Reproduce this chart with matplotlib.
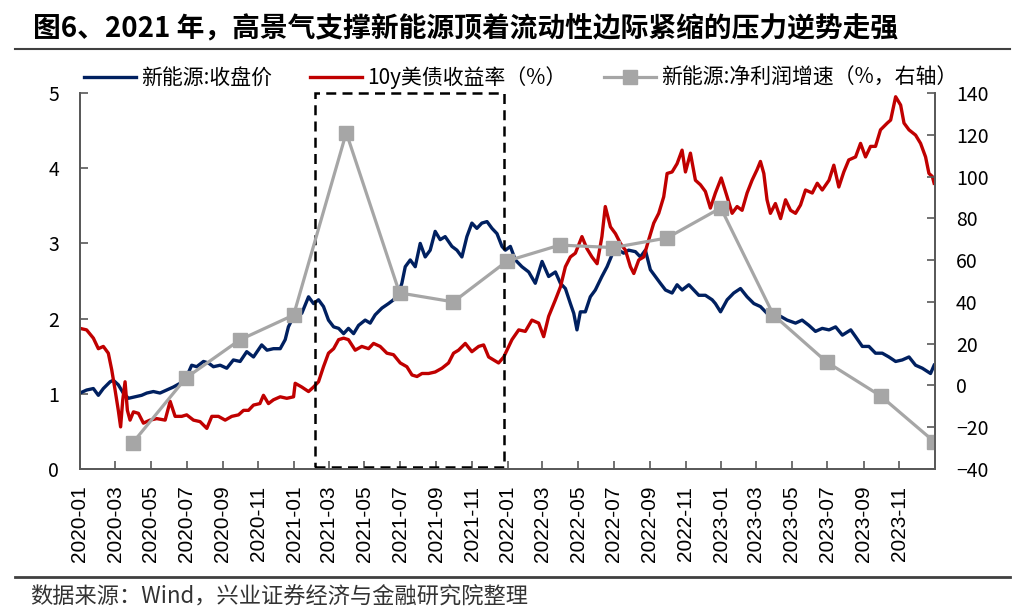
import numpy as np
import pandas as pd
import matplotlib.pyplot as plt
from matplotlib.lines import Line2D
from matplotlib.patches import Rectangle

plt.rcParams['font.family'] = ['Noto Sans CJK SC', 'DejaVu Sans']

# positions of the daily lines are read as months since 2020-01-01
# 新能源:收盘价 (left axis)
nev_month = [
    0, 0.37, 0.75, 1.03, 1.31, 1.69, 1.87, 2.15, 2.43, 2.72, 3.09, 3.46, 3.75, 4.12,
    4.49, 4.87, 5.24, 5.62, 5.99, 6.27, 6.55, 6.93, 7.21, 7.49, 7.87, 8.24, 8.61, 8.99,
    9.36, 9.74, 10.2, 10.5, 10.86, 11.24, 11.52, 11.7, 11.99, 12.08, 12.45, 12.83, 13.11,
    13.39, 13.67, 13.95, 14.24, 14.52, 14.8, 15.07, 15.36, 15.64, 16.01, 16.29, 16.57,
    16.95, 17.32, 17.6, 17.89, 18.07, 18.26, 18.54, 18.82, 19.1, 19.38, 19.66, 19.94,
    20.22, 20.5, 20.88, 21.16, 21.44, 21.72, 22.0, 22.28, 22.56, 22.85, 23.13, 23.41,
    23.69, 23.88, 24.16, 24.44, 24.81, 25.19, 25.56, 25.94, 26.31, 26.69, 26.97, 27.25,
    27.53, 27.72, 27.9, 28.09, 28.37, 28.65, 28.93, 29.3, 29.59, 29.87, 30.24, 30.52,
    30.8, 31.18, 31.46, 31.74, 32.02, 32.3, 32.58, 32.87, 33.24, 33.52, 33.8, 34.18,
    34.46, 34.74, 35.11, 35.49, 35.67, 35.96, 36.33, 36.7, 37.08, 37.45, 37.83, 38.2,
    38.57, 38.95, 39.33, 39.7, 40.17, 40.54, 40.92, 41.29, 41.67, 42.05, 42.42, 42.8,
    43.27, 43.54, 43.92, 44.29, 44.66, 45.04, 45.41, 45.79, 46.16, 46.54, 46.91, 47.29,
    47.75, 47.95,
]
nev_close = [
    1.01, 1.05, 1.07, 0.98, 1.07, 1.16, 1.18, 1.12, 1.01, 0.94, 0.96, 0.98, 1.01, 1.03,
    1.01, 1.05, 1.09, 1.14, 1.23, 1.38, 1.36, 1.43, 1.41, 1.36, 1.38, 1.34, 1.45, 1.43,
    1.56, 1.49, 1.65, 1.58, 1.60, 1.60, 1.72, 1.89, 2.03, 2.11, 2.07, 2.29, 2.20,
    2.25, 2.16, 1.98, 1.89, 1.87, 1.80, 1.87, 1.80, 1.91, 1.98, 1.94, 2.05,
    2.14, 2.20, 2.25, 2.34, 2.47, 2.69, 2.78, 2.69, 3.00, 2.82, 2.91, 3.16,
    3.05, 3.09, 2.96, 2.91, 2.82, 3.09, 3.27, 3.20, 3.27, 3.29, 3.20, 3.13,
    2.96, 2.91, 2.96, 2.78, 2.69, 2.62, 2.47, 2.76, 2.56, 2.62, 2.47, 2.40,
    2.20, 2.07, 1.85, 2.09, 2.09, 2.29, 2.38, 2.56, 2.69, 2.85, 2.91, 2.87,
    2.91, 2.89, 2.82, 2.91, 2.65, 2.56, 2.47, 2.38, 2.34, 2.45, 2.38, 2.45,
    2.38, 2.31, 2.31, 2.25, 2.20, 2.09, 2.25, 2.34, 2.40, 2.29, 2.20, 2.16,
    2.07, 2.03, 2.03, 1.98, 1.94, 1.98, 1.91, 1.83, 1.87, 1.85, 1.89, 1.78,
    1.85, 1.76, 1.63, 1.63, 1.54, 1.54, 1.49, 1.43, 1.45, 1.49, 1.38, 1.34,
    1.27, 1.38,
]

# 10y美债收益率 (left axis)
ust_month = [
    0, 0.37, 0.75, 1.03, 1.31, 1.59, 1.78, 1.97, 2.15, 2.28, 2.4, 2.53, 2.66, 2.81,
    3.0, 3.28, 3.56, 3.93, 4.31, 4.78, 5.06, 5.34, 5.71, 5.99, 6.37, 6.74, 7.12, 7.4,
    7.77, 8.15, 8.52, 8.9, 9.18, 9.46, 9.74, 10.1, 10.3, 10.58, 10.86, 11.24, 11.61,
    11.99, 12.08, 12.45, 12.83, 13.11, 13.39, 13.67, 13.95, 14.24, 14.52, 14.8, 15.07,
    15.45, 15.82, 16.2, 16.48, 16.85, 17.23, 17.6, 17.98, 18.35, 18.64, 18.92, 19.2,
    19.57, 19.94, 20.32, 20.69, 20.97, 21.25, 21.63, 22.0, 22.38, 22.66, 22.94, 23.22,
    23.5, 23.79, 24.07, 24.25, 24.63, 25.0, 25.37, 25.75, 26.03, 26.31, 26.69, 26.97,
    27.25, 27.53, 27.81, 28.18, 28.46, 28.74, 29.03, 29.3, 29.49, 29.78, 30.06, 30.34,
    30.62, 30.9, 31.09, 31.37, 31.65, 31.93, 32.21, 32.49, 32.77, 32.96, 33.24, 33.52,
    33.8, 33.99, 34.27, 34.55, 34.83, 35.11, 35.39, 35.67, 36.0, 36.33, 36.61, 36.89,
    37.17, 37.45, 37.73, 38.01, 38.2, 38.39, 38.57, 38.76, 39.04, 39.33, 39.61, 39.89,
    40.17, 40.45, 40.73, 41.11, 41.39, 41.67, 42.05, 42.32, 42.6, 42.88, 43.16, 43.54,
    43.82, 44.1, 44.38, 44.66, 44.94, 45.32, 45.51, 45.79, 46.07, 46.26, 46.54, 46.91,
    47.19, 47.47, 47.66, 47.85, 47.95,
]
ust_yield = [
    1.87, 1.85, 1.74, 1.60, 1.63, 1.54, 1.32, 1.05, 0.78, 0.56, 0.92, 1.16, 0.78, 0.65,
    0.76, 0.74, 0.61, 0.65, 0.67, 0.65, 0.90, 0.70, 0.70, 0.72, 0.65, 0.63, 0.54, 0.70,
    0.70, 0.65, 0.70, 0.72, 0.78, 0.78, 0.85, 0.87, 0.98, 0.87, 0.92, 0.96, 0.94,
    0.96, 1.14, 1.09, 1.03, 1.09, 1.16, 1.36, 1.54, 1.60, 1.72, 1.74, 1.72,
    1.58, 1.63, 1.60, 1.67, 1.63, 1.54, 1.52, 1.41, 1.36, 1.25, 1.23, 1.27,
    1.27, 1.29, 1.34, 1.41, 1.54, 1.58, 1.67, 1.56, 1.63, 1.65, 1.49, 1.45,
    1.41, 1.49, 1.63, 1.72, 1.85, 1.83, 1.98, 1.94, 1.76, 2.03, 2.25, 2.42,
    2.69, 2.82, 2.87, 3.09, 2.93, 2.82, 2.73, 3.09, 3.49, 3.22, 3.13, 3.00,
    2.91, 2.69, 2.60, 2.78, 2.82, 3.05, 3.27, 3.40, 3.62, 3.93, 3.95, 4.06,
    4.24, 3.95, 4.20, 3.84, 3.78, 3.69, 3.47, 3.67, 3.87, 3.62, 3.40, 3.49,
    3.44, 3.67, 3.84, 3.98, 4.09, 3.93, 3.58, 3.40, 3.53, 3.33, 3.58, 3.44,
    3.40, 3.51, 3.71, 3.67, 3.80, 3.71, 3.84, 4.04, 3.75, 3.95, 4.11, 4.15,
    4.33, 4.15, 4.29, 4.29, 4.51, 4.60, 4.64, 4.95, 4.84, 4.60, 4.51, 4.44,
    4.33, 4.15, 3.93, 3.89, 3.80,
]

# 新能源:净利润增速 (%, right axis), quarterly
profit_dates = [
    "2020-03-31", "2020-06-30", "2020-09-30", "2020-12-31",
    "2021-03-31", "2021-06-30", "2021-09-30", "2021-12-31",
    "2022-03-31", "2022-06-30", "2022-09-30", "2022-12-31",
    "2023-03-31", "2023-06-30", "2023-09-30", "2023-12-31",
]
profit_growth = [
    -27.5, 3.6, 21.8, 33.7,
    121.0, 44.3, 40.0, 59.6,
    67.2, 66.0, 70.6, 85.0,
    33.7, 11.2, -5.0, -27.0,
]

# highlighted period
box_start, box_end = "2021-02-05", "2021-12-25"

origin = pd.Timestamp("2020-01-01")
nev_dates = origin + pd.to_timedelta(np.array(nev_month) * 30.4375, unit='D')
ust_dates = origin + pd.to_timedelta(np.array(ust_month) * 30.4375, unit='D')
profit_dates = pd.to_datetime(profit_dates)

fig = plt.figure(figsize=(10.24, 6.15), dpi=100)
ax = fig.add_axes([80 / 1024, 1 - 469 / 615, 855 / 1024, 376 / 615])
ax2 = ax.twinx()

l1, = ax.plot(nev_dates, nev_close, color='#002060', lw=2.4, label='新能源:收盘价')
l2, = ax.plot(ust_dates, ust_yield, color='#C00000', lw=2.4, label='10y美债收益率（%）')
l3, = ax2.plot(profit_dates, profit_growth, color='#A6A6A6', lw=2.3, marker='s',
               markersize=10, label='新能源:净利润增速（%，右轴）')

x0 = pd.Timestamp(box_start)
x1 = pd.Timestamp(box_end)
rect = Rectangle((x0, 0.03), x1 - x0, 4.97, fill=False, ec='black', lw=1.8,
                 ls=(0, (4, 2.5)), clip_on=False, zorder=5)
ax.add_patch(rect)

ax.set_xlim(origin, pd.Timestamp("2024-01-01"))
ax.set_ylim(0, 5)
ax2.set_ylim(-40, 140)
ax.set_yticks(range(0, 6))
ax2.set_yticks(range(-40, 141, 20))

ticks = pd.date_range("2020-01-01", "2023-11-01", freq="2MS")
ax.set_xticks(ticks)
ax.set_xticklabels([t.strftime("%Y-%m") for t in ticks], rotation=90,
                   family='Liberation Sans', fontsize=15)

ax.tick_params(axis='x', direction='in', length=6, width=1.2, color='#595959', pad=12)
ax.tick_params(axis='y', direction='in', length=6, width=1.2, color='#595959',
               labelsize=14, pad=15)
ax2.tick_params(axis='y', direction='in', length=6, width=1.2, color='#595959',
                labelsize=14, pad=15)

for a in (ax, ax2):
    a.spines['top'].set_visible(False)
    for s in ('left', 'right', 'bottom'):
        a.spines[s].set_color('#595959')
        a.spines[s].set_linewidth(1.3)

ax.legend(handles=[l1, l2, l3], ncol=3, loc='lower left', bbox_to_anchor=(0.0, 1.0),
          frameon=False, fontsize=15, handlelength=2.5, handletextpad=0.25,
          columnspacing=1.8, borderaxespad=0.1, borderpad=0.1)

fig.text(33 / 1024, 1 - 28 / 615, '图6、2021 年，高景气支撑新能源顶着流动性边际紧缩的压力逆势走强',
         fontsize=20, weight='bold', va='center', ha='left')
fig.add_artist(Line2D([15 / 1024, 1010 / 1024], [1 - 49 / 615] * 2, color='#404040', lw=1.5))
fig.add_artist(Line2D([15 / 1024, 1010 / 1024], [1 - 577 / 615] * 2, color='#404040', lw=2.0))
fig.text(30 / 1024, 1 - 597 / 615, '数据来源：Wind，兴业证券经济与金融研究院整理',
         fontsize=16, color='#333333', va='center', ha='left')

fig.savefig('out.png', dpi=100)
